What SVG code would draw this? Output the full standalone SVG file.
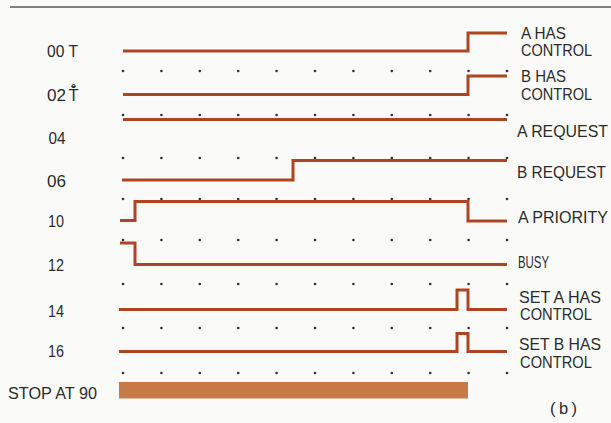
<svg xmlns="http://www.w3.org/2000/svg" xmlns:xlink="http://www.w3.org/1999/xlink" width="611" height="423" viewBox="0 0 611 423">
<style>
.lbl{font-family:"Liberation Sans Narrow","Liberation Sans",Arial,sans-serif;font-size:16.5px;fill:#2b2b2b}
.tr{fill:none;stroke:#ad4422;stroke-width:3;stroke-linejoin:miter;stroke-linecap:butt}
.dot{fill:#2e2e2e}
</style>
<defs>
<g id="dotrow" class="dot">
<circle cx="123" cy="0" r="1.3"/><circle cx="161.4" cy="0" r="1.3"/><circle cx="199.8" cy="0" r="1.3"/><circle cx="238.2" cy="0" r="1.3"/><circle cx="276.6" cy="0" r="1.3"/><circle cx="315" cy="0" r="1.3"/><circle cx="353.4" cy="0" r="1.3"/><circle cx="391.8" cy="0" r="1.3"/><circle cx="430.2" cy="0" r="1.3"/><circle cx="468.6" cy="0" r="1.3"/><circle cx="507" cy="0" r="1.3"/>
</g>
</defs>
<rect x="0" y="0" width="611" height="423" fill="#fafaf8"/>
<line x1="10" y1="7" x2="611" y2="7" stroke="#5a5a5a" stroke-width="1.6"/>
<g id="grid">
<use xlink:href="#dotrow" y="71"/>
<use xlink:href="#dotrow" y="115"/>
<use xlink:href="#dotrow" y="158"/>
<use xlink:href="#dotrow" y="199"/>
<use xlink:href="#dotrow" y="240"/>
<use xlink:href="#dotrow" y="284"/>
<use xlink:href="#dotrow" y="328"/>
<use xlink:href="#dotrow" y="373"/>
</g>
<g id="sig00">
<text class="lbl" x="47" y="57" textLength="31" lengthAdjust="spacingAndGlyphs">00 T</text>
<path class="tr" d="M123,51 H468 V33 H507"/>
<text class="lbl" x="521" y="38.5" textLength="45" lengthAdjust="spacingAndGlyphs">A HAS</text>
<text class="lbl" x="521" y="56" textLength="71" lengthAdjust="spacingAndGlyphs">CONTROL</text>
</g>
<g id="sig02">
<text class="lbl" x="47" y="100.5" textLength="19" lengthAdjust="spacingAndGlyphs">02</text>
<text x="69" y="100.5" style="font-family:'DejaVu Sans',sans-serif;font-size:15px;fill:#2b2b2b">T&#x0304;&#x030A;</text>
<path class="tr" d="M123,94.5 H468 V76 H507"/>
<text class="lbl" x="521" y="82" textLength="45" lengthAdjust="spacingAndGlyphs">B HAS</text>
<text class="lbl" x="521" y="99.5" textLength="71" lengthAdjust="spacingAndGlyphs">CONTROL</text>
</g>
<g id="sig04">
<text class="lbl" x="48.5" y="144" textLength="17" lengthAdjust="spacingAndGlyphs">04</text>
<path class="tr" d="M123,119.5 H507"/>
<text class="lbl" x="517" y="137" textLength="91" lengthAdjust="spacingAndGlyphs">A REQUEST</text>
</g>
<g id="sig06">
<text class="lbl" x="47" y="187" textLength="19" lengthAdjust="spacingAndGlyphs">06</text>
<path class="tr" d="M122,180 H293 V160.5 H507"/>
<text class="lbl" x="517" y="177.5" textLength="89" lengthAdjust="spacingAndGlyphs">B REQUEST</text>
</g>
<g id="sig10">
<text class="lbl" x="48" y="227" textLength="16" lengthAdjust="spacingAndGlyphs">10</text>
<path class="tr" d="M120,220.5 H135 V201.5 H468 V221 H507"/>
<text class="lbl" x="518" y="223" textLength="90" lengthAdjust="spacingAndGlyphs">A PRIORITY</text>
</g>
<g id="sig12">
<text class="lbl" x="48" y="270.5" textLength="16" lengthAdjust="spacingAndGlyphs">12</text>
<path class="tr" d="M120,243 H135 V264.5 H507"/>
<text class="lbl" x="518" y="268" textLength="31" lengthAdjust="spacingAndGlyphs">BUSY</text>
</g>
<g id="sig14">
<text class="lbl" x="48" y="317" textLength="16" lengthAdjust="spacingAndGlyphs">14</text>
<path class="tr" d="M119,309.5 H457 V290 H468 V309.5 H507"/>
<text class="lbl" x="519" y="302.5" textLength="82" lengthAdjust="spacingAndGlyphs">SET A HAS</text>
<text class="lbl" x="520" y="320" textLength="72" lengthAdjust="spacingAndGlyphs">CONTROL</text>
</g>
<g id="sig16">
<text class="lbl" x="48" y="357" textLength="16" lengthAdjust="spacingAndGlyphs">16</text>
<path class="tr" d="M119,351.5 H457 V333.5 H468 V351.5 H507"/>
<text class="lbl" x="519" y="350" textLength="82" lengthAdjust="spacingAndGlyphs">SET B HAS</text>
<text class="lbl" x="520" y="367.5" textLength="72" lengthAdjust="spacingAndGlyphs">CONTROL</text>
</g>
<g id="stop">
<text class="lbl" x="8" y="399" textLength="89" lengthAdjust="spacingAndGlyphs">STOP AT 90</text>
<rect x="119" y="382" width="349" height="16.5" fill="#c77a45"/>
</g>
<text class="lbl" x="550" y="413.5" textLength="27" lengthAdjust="spacing">(b)</text>
</svg>
